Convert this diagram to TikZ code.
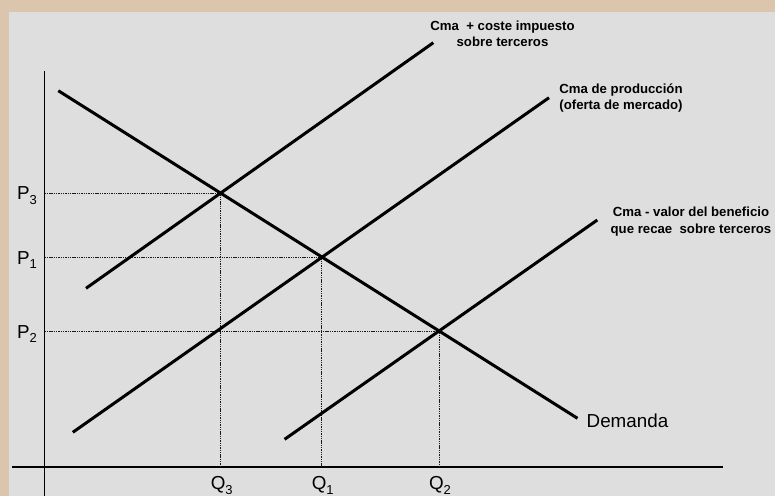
\documentclass[tikz,border=0pt]{standalone}
\usepackage{fontspec}
\setmainfont{Liberation Sans}
\definecolor{frame}{RGB}{219,197,172}
\definecolor{panel}{RGB}{222,222,222}
\newcommand{\mysub}[1]{\raisebox{-4.5pt}{\fontsize{13}{13}\selectfont #1}}
\begin{document}
\begin{tikzpicture}[x=1pt,y=-1pt,
  curve/.style={line width=3pt,black},
  axis/.style={line width=1.8pt,black},
  guide/.style={line width=1pt,black!90,dash pattern=on 1.4pt off 0.9pt},
  big/.style={inner sep=0pt,font=\fontsize{18.8}{21}\selectfont},
  tag/.style={inner sep=0pt,align=center,font=\fontsize{13.2}{16.5}\selectfont\bfseries}]
\useasboundingbox (0,0) rectangle (775,496);
\fill[frame] (0,0) rectangle (775,496);
\fill[panel] (9,12) rectangle (775,496);
% axes
\coordinate (ytop) at (44.5,70.7);
\coordinate (ybot) at (44.5,496);
\coordinate (xleft) at (12,466.7);
\coordinate (xright) at (723,466.7);
\draw[axis] (ybot) -- (ytop);
\draw[axis] (xleft) -- (xright);
% intersections
\coordinate (E3) at (220.7,193.3);
\coordinate (E1) at (321.7,257.3);
\coordinate (E2) at (439,331.3);
\coordinate (P3a) at (44.5,193.3);
\coordinate (P1a) at (44.5,257.3);
\coordinate (P2a) at (44.5,331.3);
\coordinate (Q3a) at (220.7,466.7);
\coordinate (Q1a) at (321.7,466.7);
\coordinate (Q2a) at (439,466.7);
\draw[guide] (P3a) -- (E3) -- (Q3a);
\draw[guide] (P1a) -- (E1) -- (Q1a);
\draw[guide] (P2a) -- (E2) -- (Q2a);
% curves
\coordinate (D0) at (58.3,90.7);
\coordinate (D1) at (577.5,418.3);
\coordinate (Sa0) at (86,288.3);
\coordinate (Sa1) at (433.3,42.7);
\coordinate (Sb0) at (72.8,432.3);
\coordinate (Sb1) at (549,97.7);
\coordinate (Sc0) at (284.6,439.3);
\coordinate (Sc1) at (597.3,220);
\draw[curve] (D0) -- (D1);
\draw[curve] (Sa0) -- (Sa1);
\draw[curve] (Sb0) -- (Sb1);
\draw[curve] (Sc0) -- (Sc1);
% labels
\node[big,anchor=base west] (dem) at (586.5,427.3) {Demanda};
\node[big,anchor=base west] (p3) at (17,199.5) {P\mysub{3}};
\node[big,anchor=base west] (p1) at (17,264) {P\mysub{1}};
\node[big,anchor=base west] (p2) at (17,338) {P\mysub{2}};
\node[big,anchor=base] (q3) at (221.7,489.5) {Q\mysub{3}};
\node[big,anchor=base] (q1) at (322.7,489.5) {Q\mysub{1}};
\node[big,anchor=base] (q2) at (440,489.5) {Q\mysub{2}};
\node[tag,anchor=base] (la) at (502.5,46.5) {Cma\ \ + coste impuesto\\sobre terceros};
\node[tag,anchor=base] (lb) at (621,109.5) {Cma de producción\\(oferta de mercado)};
\node[tag,anchor=base] (lc) at (691,233.2) {Cma - valor del beneficio\\que recae\ \ sobre terceros};
\end{tikzpicture}
\end{document}
